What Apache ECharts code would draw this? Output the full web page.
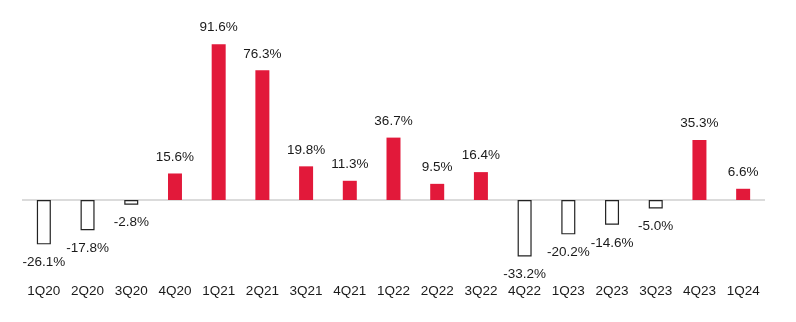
<!DOCTYPE html>
<html><head><meta charset="utf-8">
<script src="https://cdn.jsdelivr.net/npm/echarts@6/dist/echarts.min.js"></script>
<style>html,body{margin:0;padding:0;background:#fff}#c{width:796px;height:322px}</style>
</head><body><div id="c"></div>
<script>
const categories = ['1Q20','2Q20','3Q20','4Q20','1Q21','2Q21','3Q21','4Q21','1Q22','2Q22','3Q22','4Q22','1Q23','2Q23','3Q23','4Q23','1Q24'];
const values = [-26.1,-17.8,-2.8,15.6,91.6,76.3,19.8,11.3,36.7,9.5,16.4,-33.2,-20.2,-14.6,-5.0,35.3,6.6];
const FONT = '"Liberation Sans",Arial,sans-serif';
const RED = '#E2193A';
const chart = echarts.init(document.getElementById('c'), null, {renderer:'canvas'});
chart.setOption({
  animation:false,
  grid:{left:22, right:31, top:30, bottom:45.5, containLabel:false},
  xAxis:{type:'category', data:categories, position:'bottom',
    axisLine:{show:false, onZero:false}, axisTick:{show:false},
    axisLabel:{interval:0, margin:8, fontFamily:FONT, fontSize:13.5, color:'#1a1a1a'}},
  yAxis:{type:'value', min:-45, max:100, show:false, splitLine:{show:false}},
  series:[{
    type:'bar', barWidth:14,
    data: values.map(v => ({
      value:v,
      itemStyle: v >= 0 ? {color:RED} : {color:'#fff', borderColor:'#222', borderWidth:1.2},
      label:{show:true, position: v>=0 ? 'top':'bottom', distance: v>=0 ? 9.5 : 11}
    })),
    label:{fontFamily:FONT, fontSize:13.5, color:'#1a1a1a', formatter: p => p.value.toFixed(1)+'%'},
    labelLayout:{hideOverlap:false},
    markLine:{silent:true, symbol:'none', label:{show:false},
      lineStyle:{color:'#cfcfcf', width:1.5, type:'solid'},
      data:[{yAxis:0}], z:1}
  }]
});
</script></body></html>
